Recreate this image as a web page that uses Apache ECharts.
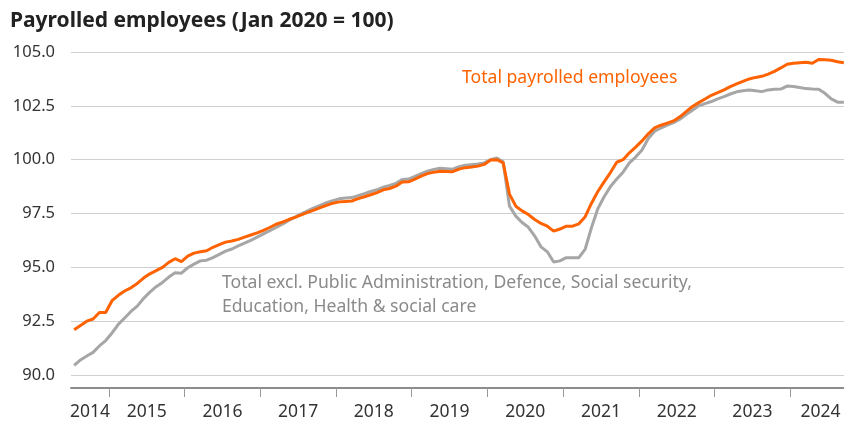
<!DOCTYPE html>
<html>
<head>
<meta charset="utf-8">
<script src="https://cdn.jsdelivr.net/npm/echarts@6/dist/echarts.min.js"></script>
<style>
html,body{margin:0;padding:0;background:#fff;}
#chart{width:844px;height:421px;}
</style>
</head>
<body>
<div id="chart"></div>
<script>
// ---- data ----
const startYear = 2014, startMonth = 7; // Jul 2014, monthly to Sep 2024
const totalPayrolled = [
92.1,92.3,92.5,92.6,92.9,92.9,93.45,93.7,93.9,94.05,94.25,94.5,
94.7,94.85,95.0,95.23,95.4,95.27,95.52,95.66,95.72,95.77,95.93,96.05,
96.17,96.22,96.3,96.4,96.5,96.6,96.72,96.85,97.0,97.1,97.22,97.32,
97.44,97.55,97.66,97.77,97.88,97.98,98.04,98.06,98.08,98.19,98.28,98.37,
98.47,98.6,98.66,98.77,98.96,98.97,99.1,99.24,99.35,99.42,99.46,99.45,
99.44,99.56,99.63,99.66,99.7,99.78,99.98,100.0,99.85,98.4,97.84,97.62,
97.45,97.22,97.04,96.91,96.68,96.78,96.91,96.91,97.02,97.35,97.98,98.52,
98.97,99.4,99.88,100.0,100.32,100.58,100.87,101.2,101.48,101.6,101.7,101.8,
101.99,102.23,102.47,102.65,102.82,102.99,103.11,103.24,103.39,103.52,103.64,103.75,
103.82,103.87,103.97,104.1,104.26,104.43,104.48,104.5,104.52,104.48,104.65,104.64,
104.62,104.55,104.5
];
const totalExclPublic = [
90.45,90.7,90.88,91.05,91.35,91.6,91.95,92.35,92.65,92.95,93.2,93.55,
93.85,94.1,94.3,94.55,94.75,94.73,94.98,95.15,95.3,95.33,95.45,95.6,
95.75,95.85,96.0,96.12,96.25,96.4,96.55,96.7,96.85,97.0,97.18,97.33,
97.48,97.62,97.76,97.88,98.0,98.1,98.18,98.22,98.24,98.33,98.42,98.52,
98.6,98.72,98.8,98.9,99.08,99.1,99.22,99.35,99.47,99.55,99.6,99.58,
99.56,99.67,99.74,99.77,99.8,99.85,100.0,100.08,99.9,97.84,97.38,97.08,
96.86,96.45,95.95,95.72,95.25,95.3,95.45,95.45,95.45,95.85,96.85,97.72,
98.28,98.75,99.1,99.42,99.85,100.12,100.45,100.98,101.32,101.47,101.6,101.72,
101.88,102.1,102.3,102.5,102.6,102.7,102.82,102.93,103.05,103.15,103.2,103.24,
103.2,103.16,103.24,103.27,103.28,103.42,103.4,103.35,103.3,103.28,103.27,103.08,
102.82,102.67,102.67
];
const yearTicks = [2015,2016,2017,2018,2019,2020,2021,2022,2023,2024];
const yearLabelPos = [2014.75,2015.5,2016.5,2017.5,2018.5,2019.5,2020.5,2021.5,2022.5,2023.5,2024.4];
const titleText = 'Payrolled employees (Jan 2020 = 100)';
const seriesNames = ['Total payrolled employees','Total excl. Public Administration, Defence, Social security,\nEducation, Health & social care'];

// month centre position in fractional years
function monthX(i){
  const m = startMonth - 1 + i;
  return startYear + Math.floor(m/12) + ((m%12) + 0.5)/12;
}
const orangeData = totalPayrolled.map((v,i)=>[monthX(i), v]);
const greyData = totalExclPublic.map((v,i)=>[monthX(i), v]);

const FONT = 'Noto Sans';
const chart = echarts.init(document.getElementById('chart'));
chart.setOption({
  animation:false,
  backgroundColor:'#fff',
  title:{text:titleText,left:10,top:11,padding:0,textStyle:{fontFamily:FONT,fontSize:21,fontWeight:'bold',color:'#222',lineHeight:21}},
  grid:{left:71,right:0,top:52,bottom:45},
  xAxis:{
    type:'value',min:2014.5,max:2024.71,offset:13,
    axisLine:{show:true,lineStyle:{color:'#8c8c8c',width:2}},
    axisTick:{show:true,length:9,customValues:yearTicks,lineStyle:{color:'#9a9a9a',width:1}},
    axisLabel:{customValues:yearLabelPos,formatter:v=>String(Math.floor(v)),fontFamily:FONT,fontSize:17.5,color:'#333',margin:15},
    splitLine:{show:false}
  },
  yAxis:{
    type:'value',min:90,max:105,interval:2.5,
    axisLine:{show:false},axisTick:{show:false},
    axisLabel:{formatter:v=>v.toFixed(1),fontFamily:FONT,fontSize:16.5,color:'#333',margin:16},
    splitLine:{lineStyle:{color:'#cfcfcf',width:1}}
  },
  series:[
    {name:seriesNames[1],type:'line',data:greyData,showSymbol:false,lineStyle:{color:'#a6a6a6',width:3},z:2},
    {name:seriesNames[0],type:'line',data:orangeData,showSymbol:false,lineStyle:{color:'#ff6200',width:3},z:3}
  ],
  graphic:[
    {type:'text',x:462,y:66,style:{text:seriesNames[0],fill:'#ff6200',font:'17.6px "'+FONT+'"',lineHeight:24,verticalAlign:'top'}},
    {type:'text',x:222,y:271,style:{text:seriesNames[1],fill:'#8a8a8a',font:'17.6px "'+FONT+'"',lineHeight:24,verticalAlign:'top'}}
  ]
});
</script>
</body>
</html>
